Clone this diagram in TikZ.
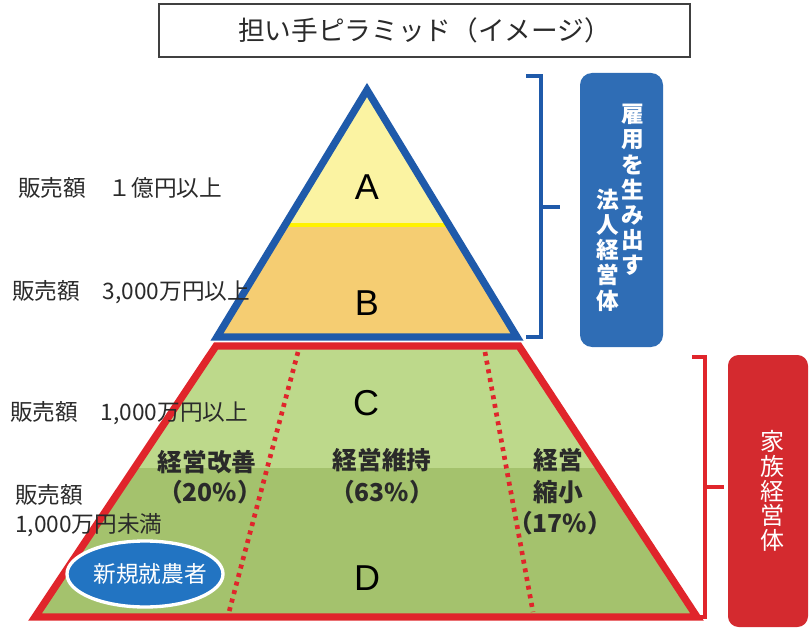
\documentclass[tikz,border=0pt]{standalone}
\usepackage{fontspec}
\setmainfont{Noto Sans CJK JP}
\newfontfamily\latinsans{Liberation Sans}
\definecolor{tblue}{HTML}{1F5AAA}
\definecolor{afill}{HTML}{FBF3A2}
\definecolor{bfill}{HTML}{F5CD72}
\definecolor{yline}{HTML}{FFF200}
\definecolor{tred}{HTML}{E0252B}
\definecolor{cfill}{HTML}{BDD98B}
\definecolor{dfill}{HTML}{A4C26D}
\definecolor{boxblue}{HTML}{2F6DB5}
\definecolor{boxred}{HTML}{D42A2F}
\definecolor{ellblue}{HTML}{2274C2}
\definecolor{txt}{HTML}{2A2A2A}
\tikzset{
  leftlabel/.style={anchor=west, inner sep=0pt, text=txt, font=\fontsize{17}{20}\selectfont},
  boldlabel/.style={inner sep=0pt, text=txt, font=\fontsize{18.5}{22}\selectfont\bfseries},
  letter/.style={inner sep=0pt, text=black, font=\latinsans\fontsize{27}{30}\selectfont},
  vtext/.style={inner sep=0pt, align=center, text=white},
  bracketline/.style={line width=3pt, line cap=butt, line join=miter},
  dotline/.style={tred, line width=3.5pt, dash pattern=on 3pt off 3.6pt}
}
\begin{document}
\begin{tikzpicture}[x=0.75pt,y=-0.75pt]
\useasboundingbox (0,0) rectangle (811,631);
\fill[white] (0,0) rectangle (811,631);

% title
\draw[line width=1.5pt, draw=black!75, fill=white] (159,4) rectangle (690,57);
\node[inner sep=0pt, text=txt, font=\fontsize{20}{24}\selectfont] (title) at (424.5,30.5) {担い手ピラミッド（イメージ）};

% upper triangle
\coordinate (apex) at (367,90);
\coordinate (tbl) at (217,337);
\coordinate (tbr) at (517,337);
\begin{scope}
  \clip (apex) -- (tbl) -- (tbr) -- cycle;
  \fill[afill] (150,60) rectangle (560,225);
  \fill[bfill] (150,225) rectangle (560,345);
  \draw[yline, line width=3.5pt] (150,225) -- (560,225);
\end{scope}
\draw[tblue, line width=5.5pt, line join=miter] (apex) -- (tbl) -- (tbr) -- cycle;

% lower trapezoid
\coordinate (ztl) at (216,346);
\coordinate (ztr) at (519,346);
\coordinate (zbr) at (697,617);
\coordinate (zbl) at (35,617);
\coordinate (d1a) at (298,352);
\coordinate (d1b) at (229,612);
\coordinate (d2a) at (485,352);
\coordinate (d2b) at (533,612);
\begin{scope}
  \clip (ztl) -- (ztr) -- (zbr) -- (zbl) -- cycle;
  \fill[cfill] (0,340) rectangle (811,468);
  \fill[dfill] (0,468) rectangle (811,630);
  \draw[dotline] (d1a) -- (d1b);
  \draw[dotline] (d2a) -- (d2b);
\end{scope}
\draw[tred, line width=5.5pt, line join=miter] (ztl) -- (ztr) -- (zbr) -- (zbl) -- cycle;

% letters
\node[letter] (la) at (367,187) {A};
\node[letter] (lb) at (367,303) {B};
\node[letter] (lc) at (366,403) {C};
\node[letter] (ld) at (367,578) {D};

% left labels
\node[leftlabel] (s1) at (18,188) {販売額　１億円以上};
\node[leftlabel] (s2) at (12,292) {販売額　3,000万円以上};
\node[leftlabel] (s3) at (10,413) {販売額　1,000万円以上};
\node[leftlabel] (s4) at (15,495) {販売額};
\node[leftlabel] (s5) at (15,525) {1,000万円未満};

% bold labels
\node[boldlabel] (k1) at (207,462) {経営改善};
\node[boldlabel] (k1p) at (210,492) {（20\%）};
\node[boldlabel] (k2) at (382,460) {経営維持};
\node[boldlabel] (k2p) at (382,492) {（63\%）};
\node[boldlabel] (k3) at (558,460) {経営};
\node[boldlabel] (k3b) at (558,492) {縮小};
\node[boldlabel] (k3p) at (560,523) {（17\%）};

% new farmers ellipse
\draw[ellblue, fill=ellblue] (145,574) ellipse [x radius=78, y radius=33];
\draw[white, line width=2.5pt] (145,574) ellipse [x radius=78, y radius=33];
\node[inner sep=0pt, text=white, font=\fontsize{17}{20}\selectfont] (nf) at (150,574) {新規就農者};

% blue bracket and box
\draw[bracketline, tblue] (526,76) -- (541,76) -- (541,337) -- (526,337);
\draw[bracketline, tblue] (541,207) -- (560,207);
\fill[boxblue, rounded corners=9pt] (580,73) rectangle (663,347);
\node[vtext, font=\fontsize{17}{18.9}\selectfont\bfseries] (v1) at (633,190) {雇\\用\\を\\生\\み\\出\\す};
\node[vtext, font=\fontsize{17}{18.9}\selectfont\bfseries] (v2) at (608,250) {法\\人\\経\\営\\体};

% red bracket and box
\draw[bracketline, tred] (692,357) -- (705,357) -- (705,617) -- (692,617);
\draw[bracketline, tred] (705,487) -- (724,487);
\fill[boxred, rounded corners=8pt] (728,355) rectangle (808,627);
\node[vtext, font=\fontsize{18}{18.5}\selectfont] (v3) at (772,491) {家\\族\\経\\営\\体};
\end{tikzpicture}
\end{document}
